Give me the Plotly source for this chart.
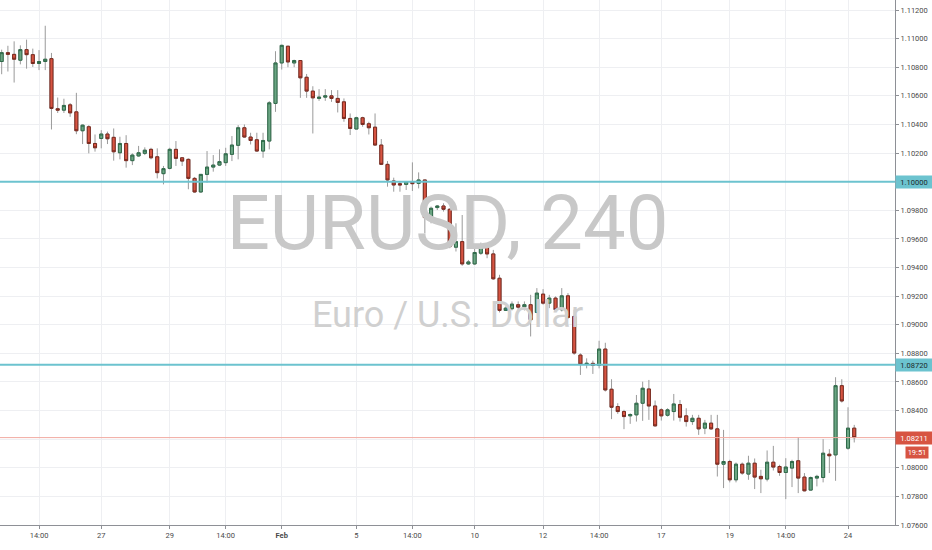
import plotly.graph_objects as go

# EURUSD 4h candles (oldest first)
opens = [1.10840, 1.10902, 1.10890, 1.10849, 1.10923, 1.10888, 1.10826, 1.10840, 1.10860, 1.10510,
         1.10500, 1.10537, 1.10488, 1.10356, 1.10384, 1.10267, 1.10302, 1.10333, 1.10310, 1.10202,
         1.10267, 1.10147, 1.10180, 1.10198, 1.10226, 1.10174, 1.10056, 1.10093, 1.10226, 1.10167,
         1.10156, 1.10023, 1.09928, 1.10051, 1.10102, 1.10116, 1.10133, 1.10191, 1.10254, 1.10377,
         1.10312, 1.10293, 1.10214, 1.10284, 1.10547, 1.10830, 1.10947, 1.10830, 1.10847, 1.10730,
         1.10633, 1.10582, 1.10591, 1.10600, 1.10582, 1.10558, 1.10442, 1.10368, 1.10447, 1.10405,
         1.10381, 1.10256, 1.10121, 1.10005, 1.09986, 1.09981, 1.09998, 1.09988, 1.10012, 1.09749,
         1.09819, 1.09830, 1.09807, 1.09542, 1.09581, 1.09425, 1.09425, 1.09500, 1.09553, 1.09495,
         1.09325, 1.09100, 1.09112, 1.09140, 1.09125, 1.09140, 1.09086, 1.09214, 1.09151, 1.09186,
         1.09105, 1.09202, 1.09058, 1.08788, 1.08723, 1.08730, 1.08716, 1.08830, 1.08549, 1.08428,
         1.08393, 1.08363, 1.08370, 1.08451, 1.08551, 1.08432, 1.08405, 1.08367, 1.08393, 1.08442,
         1.08363, 1.08323, 1.08346, 1.08277, 1.08312, 1.08272, 1.08025, 1.08044, 1.07916, 1.08025,
         1.07956, 1.08032, 1.07940, 1.07921, 1.08039, 1.08009, 1.07967, 1.07998, 1.08049, 1.07935,
         1.07844, 1.07928, 1.07932, 1.08095, 1.08090, 1.08574, 1.08137, 1.08277]
highs = [1.10923, 1.10950, 1.10981, 1.10953, 1.10993, 1.10930, 1.10920, 1.11090, 1.10900, 1.10588,
         1.10580, 1.10550, 1.10621, 1.10400, 1.10395, 1.10330, 1.10360, 1.10350, 1.10372, 1.10314,
         1.10325, 1.10198, 1.10250, 1.10240, 1.10237, 1.10233, 1.10110, 1.10237, 1.10284, 1.10172,
         1.10163, 1.10033, 1.10051, 1.10214, 1.10186, 1.10226, 1.10237, 1.10319, 1.10395, 1.10400,
         1.10342, 1.10342, 1.10342, 1.10563, 1.10912, 1.10958, 1.10947, 1.10853, 1.10847, 1.10753,
         1.10667, 1.10647, 1.10647, 1.10640, 1.10640, 1.10582, 1.10477, 1.10454, 1.10454, 1.10419,
         1.10477, 1.10298, 1.10144, 1.10028, 1.10005, 1.10005, 1.10135, 1.10065, 1.10012, 1.09826,
         1.09837, 1.09849, 1.09814, 1.09709, 1.09767, 1.09453, 1.09535, 1.09574, 1.09570, 1.09523,
         1.09349, 1.09128, 1.09163, 1.09163, 1.09163, 1.09209, 1.09256, 1.09249, 1.09209, 1.09198,
         1.09256, 1.09221, 1.09105, 1.08800, 1.08765, 1.08749, 1.08888, 1.08874, 1.08619, 1.08451,
         1.08405, 1.08381, 1.08509, 1.08602, 1.08614, 1.08470, 1.08416, 1.08416, 1.08516, 1.08474,
         1.08416, 1.08370, 1.08370, 1.08335, 1.08370, 1.08370, 1.08265, 1.08056, 1.08037, 1.08037,
         1.08084, 1.08065, 1.07986, 1.08121, 1.08153, 1.08021, 1.08067, 1.08056, 1.08214, 1.07963,
         1.07939, 1.07951, 1.08200, 1.08130, 1.08633, 1.08619, 1.08423, 1.08300]
lows = [1.10751, 1.10770, 1.10693, 1.10820, 1.10790, 1.10802, 1.10780, 1.10780, 1.10365, 1.10480,
        1.10480, 1.10453, 1.10332, 1.10263, 1.10198, 1.10210, 1.10233, 1.10263, 1.10147, 1.10156,
        1.10098, 1.10116, 1.10174, 1.10186, 1.10156, 1.10023, 1.09981, 1.10086, 1.10110, 1.10110,
        1.09947, 1.09923, 1.09923, 1.09993, 1.10070, 1.10109, 1.10110, 1.10144, 1.10156, 1.10307,
        1.10260, 1.10209, 1.10167, 1.10226, 1.10488, 1.10784, 1.10800, 1.10800, 1.10586, 1.10586,
        1.10337, 1.10565, 1.10565, 1.10558, 1.10484, 1.10419, 1.10326, 1.10368, 1.10384, 1.10330,
        1.10251, 1.10116, 1.09965, 1.09930, 1.09930, 1.09942, 1.09935, 1.09953, 1.09639, 1.09709,
        1.09802, 1.09791, 1.09535, 1.09512, 1.09412, 1.09418, 1.09418, 1.09488, 1.09465, 1.09314,
        1.09086, 1.09100, 1.09100, 1.09100, 1.09100, 1.08918, 1.09081, 1.09140, 1.09116, 1.09093,
        1.09093, 1.09040, 1.08790, 1.08649, 1.08695, 1.08656, 1.08695, 1.08533, 1.08340, 1.08377,
        1.08270, 1.08307, 1.08323, 1.08328, 1.08335, 1.08288, 1.08330, 1.08358, 1.08330, 1.08323,
        1.08288, 1.08300, 1.08230, 1.08235, 1.08265, 1.07939, 1.07858, 1.07898, 1.07898, 1.07951,
        1.07916, 1.07851, 1.07823, 1.07905, 1.07981, 1.07944, 1.07781, 1.07865, 1.07823, 1.07835,
        1.07842, 1.07870, 1.07898, 1.07963, 1.07909, 1.08456, 1.08126, 1.08177]
closes = [1.10902, 1.10890, 1.10856, 1.10923, 1.10888, 1.10826, 1.10840, 1.10856, 1.10512, 1.10500,
          1.10533, 1.10481, 1.10356, 1.10395, 1.10267, 1.10237, 1.10333, 1.10300, 1.10209, 1.10267,
          1.10147, 1.10186, 1.10202, 1.10220, 1.10167, 1.10063, 1.10091, 1.10226, 1.10163, 1.10144,
          1.10023, 1.09928, 1.10051, 1.10102, 1.10116, 1.10140, 1.10195, 1.10256, 1.10377, 1.10312,
          1.10288, 1.10214, 1.10288, 1.10551, 1.10830, 1.10953, 1.10837, 1.10847, 1.10726, 1.10633,
          1.10586, 1.10591, 1.10600, 1.10582, 1.10554, 1.10442, 1.10372, 1.10447, 1.10400, 1.10377,
          1.10256, 1.10121, 1.10012, 1.09977, 1.09977, 1.10000, 1.09986, 1.10012, 1.09749, 1.09814,
          1.09830, 1.09807, 1.09546, 1.09581, 1.09425, 1.09439, 1.09505, 1.09553, 1.09495, 1.09321,
          1.09100, 1.09116, 1.09144, 1.09123, 1.09140, 1.09035, 1.09221, 1.09151, 1.09186, 1.09105,
          1.09202, 1.09051, 1.08802, 1.08723, 1.08730, 1.08716, 1.08830, 1.08544, 1.08423, 1.08393,
          1.08358, 1.08372, 1.08451, 1.08556, 1.08432, 1.08293, 1.08363, 1.08405, 1.08446, 1.08353,
          1.08323, 1.08346, 1.08272, 1.08312, 1.08272, 1.08025, 1.08044, 1.07916, 1.08025, 1.07963,
          1.08032, 1.07935, 1.07923, 1.08039, 1.08005, 1.07967, 1.08005, 1.08044, 1.07928, 1.07839,
          1.07932, 1.07940, 1.08102, 1.08084, 1.08574, 1.08467, 1.08277, 1.08211]

# time axis labels (bar index -> label)
tick_bars = [6, 16, 27, 36, 45, 57, 66, 76, 87, 96, 106, 117, 126, 136]
tick_text = ["14:00", "27", "29", "14:00", "<b>Feb</b>", "5", "14:00", "10", "12", "14:00",
             "17", "19", "14:00", "24"]

levels = [1.10000, 1.08720]   # horizontal lines drawn on the chart
last_price = 1.08211
countdown = "19:51"

bars = list(range(len(opens)))
x_rng = [-0.27, 143.55]
y_rng = [1.0760, 1.1127]

up, dn = "#6ba583", "#d75442"
wick = "#9a9a9a"
cyan = "#6cc3cf"

fig = go.Figure()

# watermark (under the candles)
wx = x_rng[0] + 0.5 * (x_rng[1] - x_rng[0])
fig.add_trace(go.Scatter(
    x=[wx, wx],
    y=[y_rng[0] + 0.562 * (y_rng[1] - y_rng[0]), y_rng[0] + 0.394 * (y_rng[1] - y_rng[0])],
    mode="text", text=["EURUSD, 240", "Euro / U.S. Dollar"],
    textfont=dict(family="Roboto, sans-serif", size=[76, 36],
                  color=["#c8c8c8", "#d0d0d0"]),
    hoverinfo="skip", showlegend=False))

# wicks
fig.add_trace(go.Candlestick(
    x=bars, open=opens, high=highs, low=lows, close=closes,
    increasing=dict(line=dict(color=wick, width=1), fillcolor=wick),
    decreasing=dict(line=dict(color=wick, width=1), fillcolor=wick),
    whiskerwidth=0, hoverinfo="skip", showlegend=False))

# bodies
body_hi = [max(o, c) for o, c in zip(opens, closes)]
body_lo = [min(o, c) for o, c in zip(opens, closes)]
fig.add_trace(go.Candlestick(
    x=bars, open=opens, high=body_hi, low=body_lo, close=closes,
    increasing=dict(line=dict(color="#2f6b4a", width=1), fillcolor=up),
    decreasing=dict(line=dict(color="#7a2a1f", width=1), fillcolor=dn),
    whiskerwidth=0, showlegend=False))

for lv in levels:
    fig.add_hline(y=lv, line=dict(color=cyan, width=2))
    fig.add_annotation(x=1, xref="paper", xanchor="left", y=lv, yref="y",
                       text=f"{lv:.5f}", showarrow=False, bgcolor=cyan, width=36, height=12,
                       font=dict(size=7.5, color="#1b2a2c", family="Roboto"), borderpad=0)

fig.add_hline(y=last_price, line=dict(color="#f1aaa2", width=1))
fig.add_annotation(x=1, xref="paper", xanchor="left", y=last_price, yref="y",
                   text=f"{last_price:.5f}", showarrow=False, bgcolor=dn, width=36, height=12,
                   font=dict(size=7.5, color="white", family="Roboto"), borderpad=0)
fig.add_annotation(x=1, xref="paper", xanchor="left", xshift=10, y=last_price, yref="y",
                   yshift=-15, text=countdown, showarrow=False, bgcolor=dn, width=22, height=11,
                   font=dict(size=7.5, color="white", family="Roboto"), borderpad=0)

fig.update_layout(
    width=932, height=550,
    margin=dict(l=0, r=37, t=0, b=25),
    plot_bgcolor="white", paper_bgcolor="white",
    font=dict(family="Roboto", size=7.5, color="#4a4a4a"),
    boxgap=0.3,
    xaxis=dict(range=x_rng, tickvals=tick_bars, ticktext=tick_text,
               showgrid=True, gridcolor="#eeeff2", zeroline=False,
               showline=True, linecolor="#8e9096", linewidth=1,
               ticks="outside", ticklen=3, tickcolor="#8e9096",
               rangeslider=dict(visible=False)),
    yaxis=dict(range=y_rng, side="right", dtick=0.002, tick0=1.076, tickformat=".5f",
               showgrid=True, gridcolor="#eeeff2", zeroline=False,
               showline=True, linecolor="#8e9096", linewidth=1,
               ticks="outside", ticklen=3, tickcolor="#8e9096"),
    showlegend=False,
)

fig.write_html("out.html", config={"displayModeBar": False},
               post_script="document.body.style.margin='0px';")
